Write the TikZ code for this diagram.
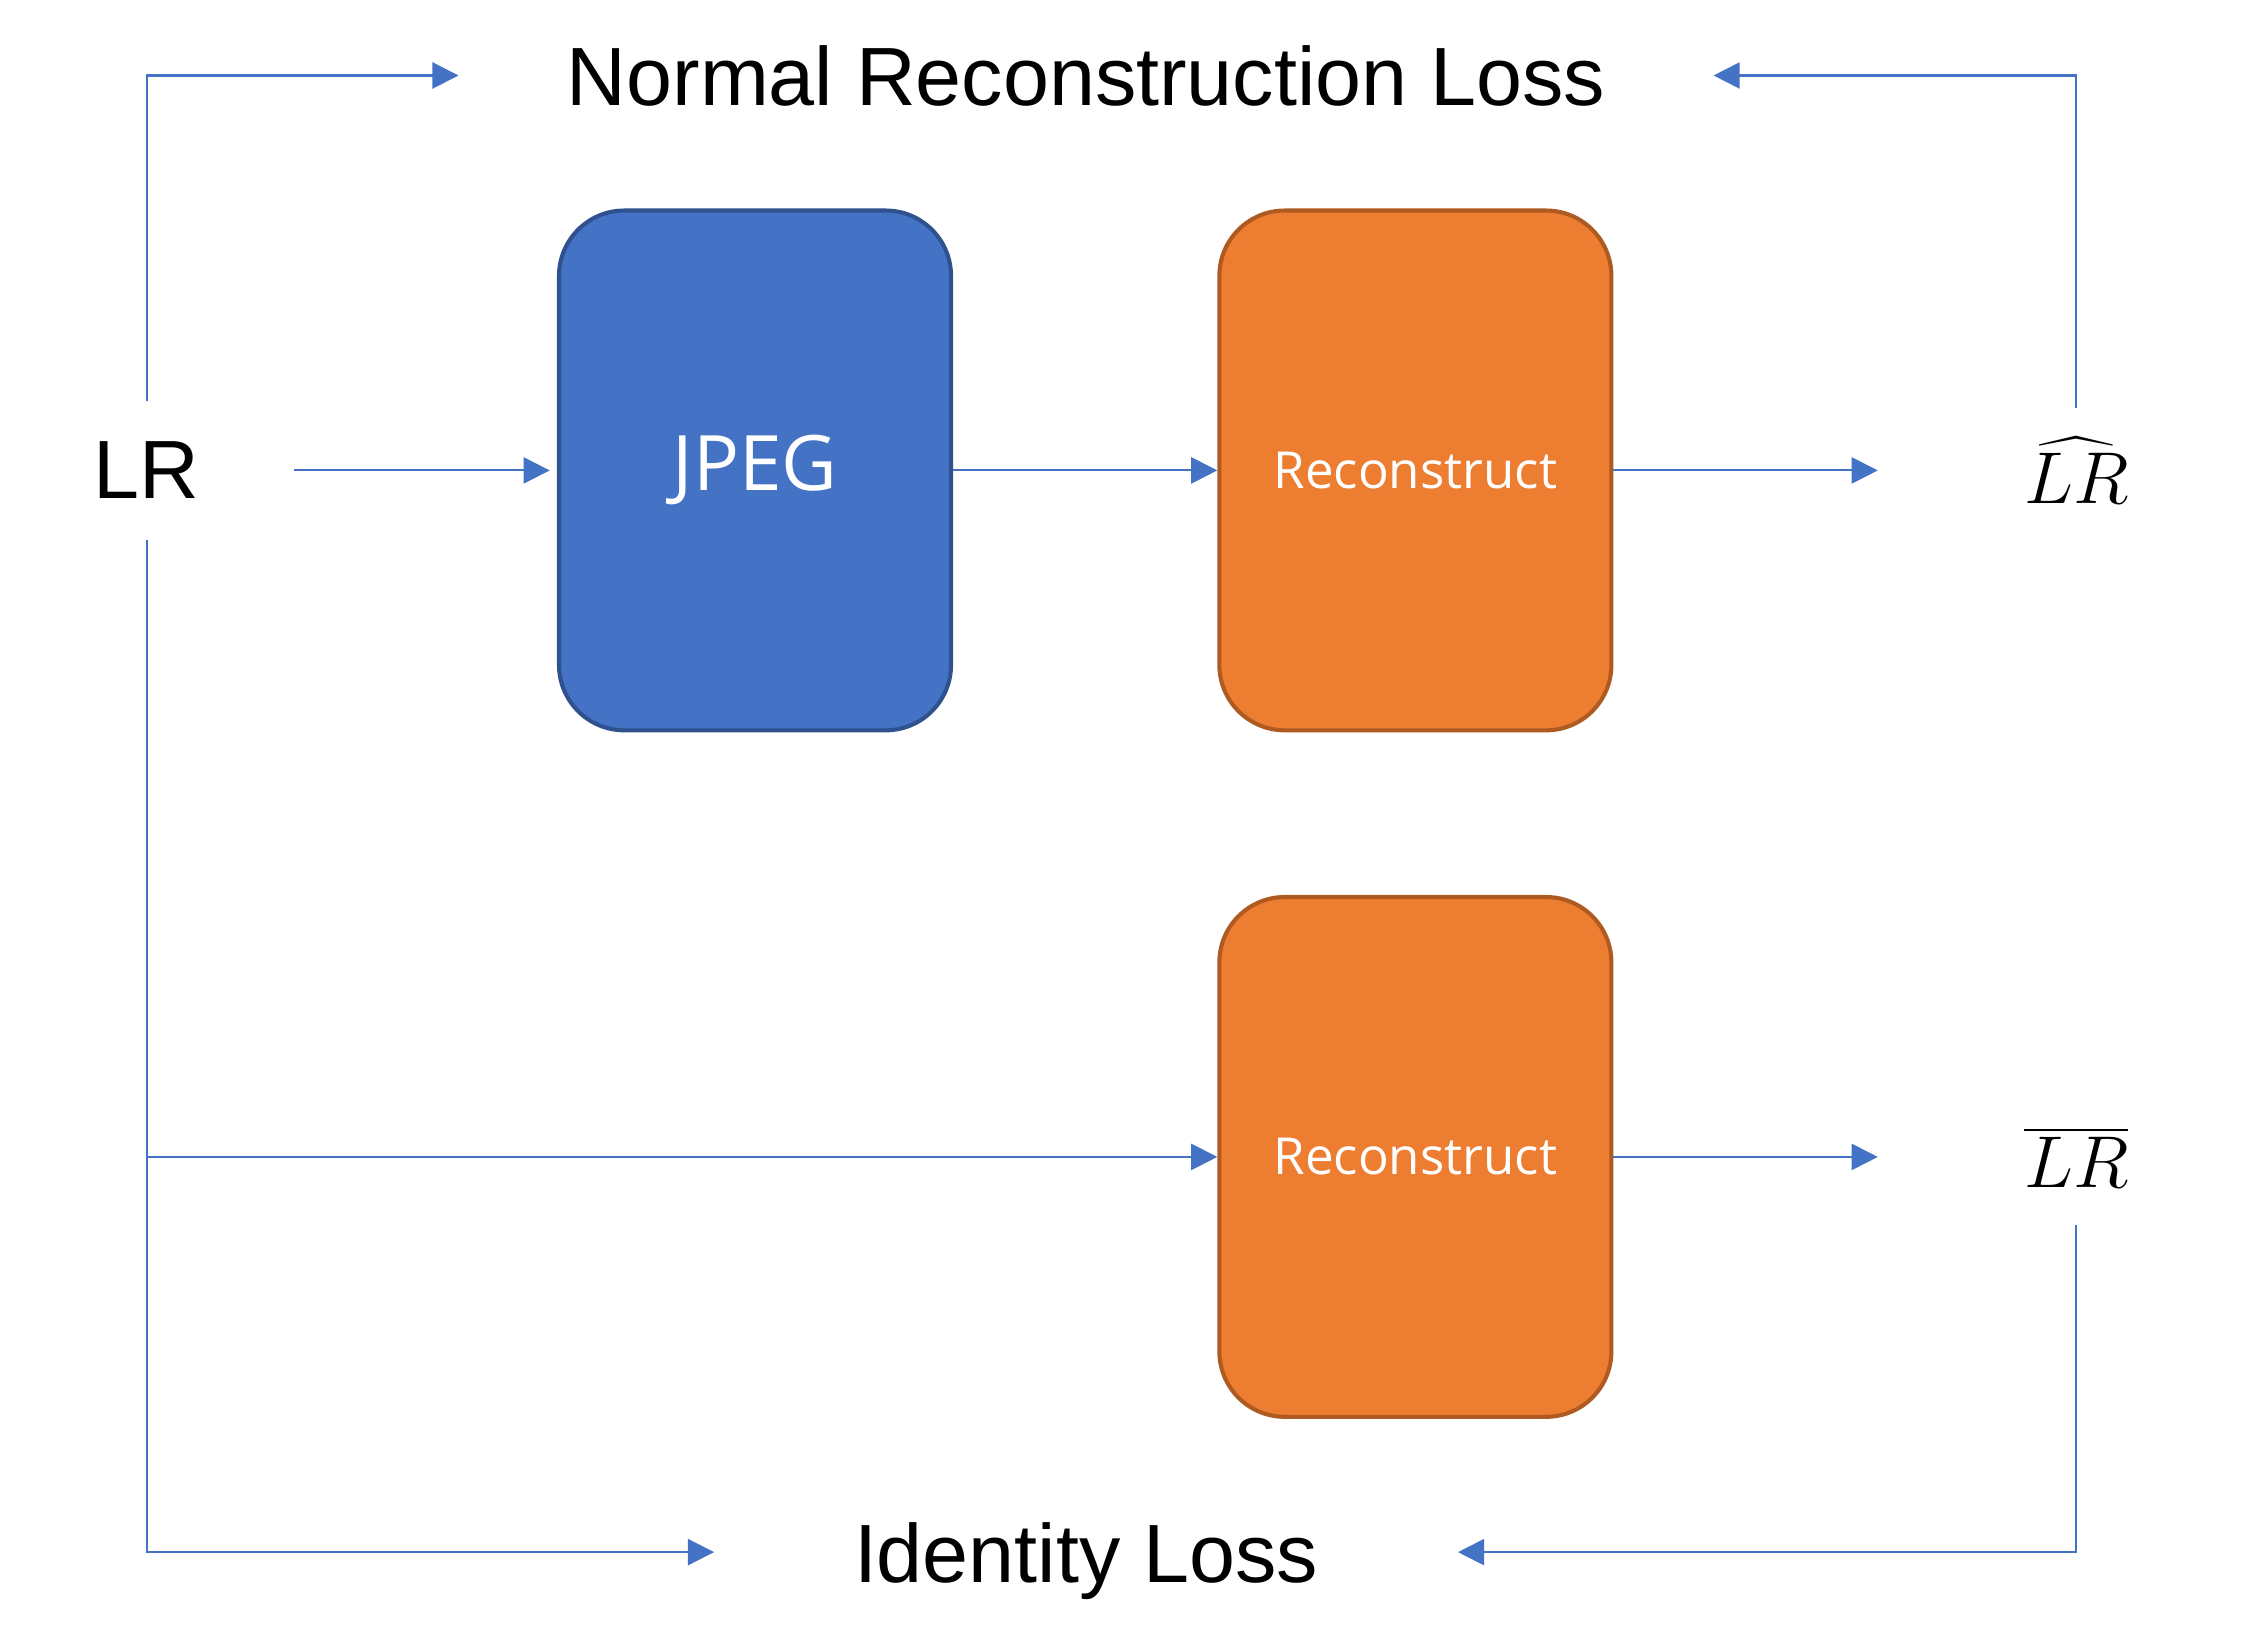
\documentclass[tikz,border=0pt]{standalone}
\usepackage{fontspec}
\setmainfont{Liberation Sans}
\newfontfamily\boxfont{Open Sans}
\usetikzlibrary{arrows.meta,positioning}
\definecolor{lcline}{HTML}{4472C4}
\definecolor{lcjpeg}{HTML}{4472C4}
\definecolor{lcjpegd}{HTML}{2F528F}
\definecolor{lcrec}{HTML}{ED7D31}
\definecolor{lcrecd}{HTML}{AE5A21}

\begin{document}
\begin{tikzpicture}[%
    >={Triangle[length=1.8mm,width=1.8mm]}, % filled arrow tips
    every node/.style={inner sep=0pt}]
\useasboundingbox (0,0) rectangle (15.6,-11.32);
% -------------------------------------------------
% Box styles
\tikzset{
  base/.style={draw, line width=0.8pt, rounded corners=4.5mm, minimum width=2.7cm,
    minimum height=3.58cm, text=white},
  jpeg/.style={base, fill=lcjpeg, draw=lcjpegd, font={\boxfont\fontsize{15}{18}\selectfont}},
  rec/.style={base, fill=lcrec, draw=lcrecd, font={\boxfont\fontsize{10}{12}\selectfont}},
  term/.style={text depth=0pt, font={\fontsize{16.2}{19}\selectfont}},
  mterm/.style={minimum width=2.72cm, font={\fontsize{14}{17}\selectfont}},
  % -------------------------------------------------
  % Connector line style
  norm/.style={->, draw, lcline, line width=0.4pt}
}
% -------------------------------------------------
% Main row of boxes
\node [term, minimum width=2.02cm, minimum height=0.94cm] (lr) at (1.01,-3.24) {LR};
\node [jpeg] (jpeg) at (5.2,-3.24) {JPEG};
\node [rec, right=1.82cm of jpeg] (rec1) {Reconstruct};
\node [rec, below=1.12cm of rec1] (rec2) {Reconstruct};

% outputs on the right
\node [mterm, minimum height=0.84cm] (lrhat) at (14.3,-3.24) {$\widehat{LR}$};
\node [mterm, minimum height=0.92cm] (lrbar) at (lrhat |- rec2) {$\overline{LR}$};

% losses
\node [term, minimum width=8.63cm] (nrl) at (7.48,-0.52) {Normal Reconstruction Loss};
\node [term, minimum width=5.11cm] (idl) at (7.48,-10.69) {Identity Loss};

% -------------------------------------------------
% straight connections
\draw [norm, shorten >=0.5mm] (lr) -- (jpeg);
\draw [norm] (jpeg) -- (rec1);
\draw [norm] (rec1) -- (lrhat);
\draw [norm] (rec2) -- (lrbar);
\draw [norm] (lr.south |- rec2) -- (rec2);

% -------------------------------------------------
% loss connectors
\draw [norm] (lr.north) |- (nrl.west);
\draw [norm] (lrhat.north) |- (nrl.east);
\draw [norm] (lr.south) |- (idl.west);
\draw [norm] (lrbar.south) |- (idl.east);
\end{tikzpicture}
\end{document}
